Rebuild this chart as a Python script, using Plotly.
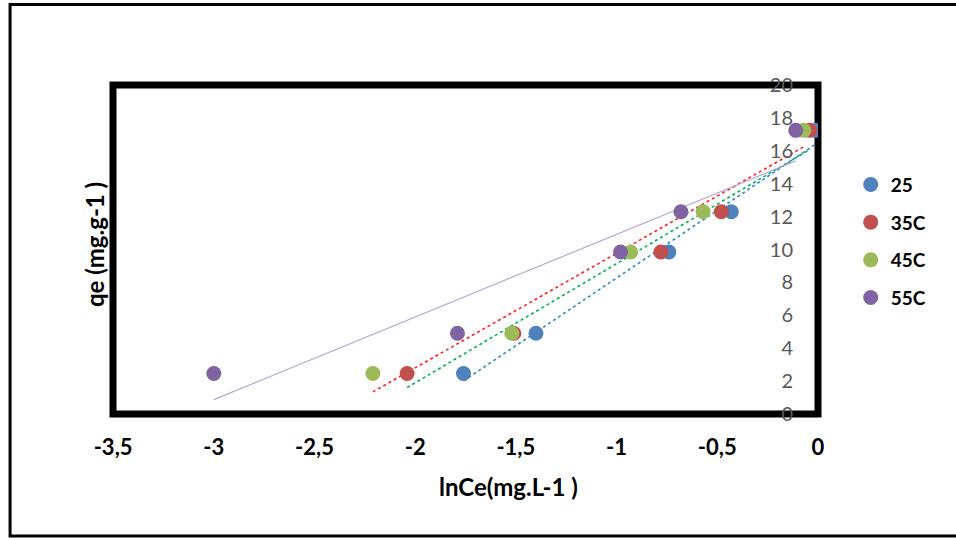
import numpy as np
import plotly.graph_objects as go

# ---- data ----
series_names = ["25", "35C", "45C", "55C"]
qe_values = [2.45, 4.9, 9.85, 12.3, 17.25]
lnce_25 = [-1.76, -1.40, -0.74, -0.43, -0.01]
lnce_35 = [-2.04, -1.51, -0.78, -0.48, -0.04]
lnce_45 = [-2.21, -1.52, -0.93, -0.57, -0.07]
lnce_55 = [-3.00, -1.79, -0.98, -0.68, -0.11]
x_tick_vals = [-3.5, -3, -2.5, -2, -1.5, -1, -0.5, 0]
x_tick_text = ["-3,5", "-3", "-2,5", "-2", "-1,5", "-1", "-0,5", "0"]
y_tick_vals = [0, 2, 4, 6, 8, 10, 12, 14, 16, 18, 20]

marker_colors = ["#4F81BD", "#C0504D", "#9BBB59", "#8064A2"]
trend_colors = ["#2E86D6", "#00B050", "#FF2020", "#B8A6D4"]
trend_dash = ["dot", "dot", "dot", "solid"]

FONT = "Lato"
fig = go.Figure()
xs_all = [lnce_25, lnce_35, lnce_45, lnce_55]

# trendlines (linear fit of each series)
for i, xs in enumerate(xs_all):
    xa = np.array(xs)
    ya = np.array(qe_values)
    m, b = np.polyfit(xa, ya, 1)
    xl = np.array([xa.min(), xa.max()])
    fig.add_trace(go.Scatter(
        x=xl, y=m * xl + b, mode="lines", showlegend=False, hoverinfo="skip",
        line=dict(color=trend_colors[i], width=1.6 if i < 3 else 1.2, dash=trend_dash[i])))

# markers
for i, xs in enumerate(xs_all):
    fig.add_trace(go.Scatter(
        x=xs, y=qe_values, mode="markers", name=series_names[i],
        legendgroup=series_names[i],
        marker=dict(size=15, color=marker_colors[i], line=dict(width=0))))

fig.update_layout(
    width=956, height=538,
    margin=dict(l=113, r=138, t=85, b=124),
    paper_bgcolor="white", plot_bgcolor="white",
    font=dict(family=FONT, color="black"),
    showlegend=True,
    legend=dict(x=1.0464, y=0.755, xanchor="left", yanchor="top",
                font=dict(family=FONT, size=19, color="black", weight="bold"),
                tracegroupgap=10, itemwidth=30, bgcolor="rgba(0,0,0,0)"),
    xaxis=dict(range=[-3.5005, 0.0005], tickvals=x_tick_vals, ticktext=x_tick_text,
               showgrid=False, zeroline=False, showline=False, ticks="",
               ticklabelstandoff=18, ticklabeloverflow="allow",
               tickfont=dict(family=FONT, size=22, color="black", weight="bold")),
    yaxis=dict(range=[-0.01, 20.01], tickvals=y_tick_vals, side="right",
               ticklabelposition="inside", ticklabelstandoff=22,
               ticklabeloverflow="allow",
               showgrid=False, zeroline=False, showline=False, ticks="",
               tickfont=dict(family=FONT, size=20, color="#595959")),
    shapes=[
        dict(type="rect", xref="paper", yref="paper", x0=0, x1=1, y0=0, y1=1,
             line=dict(color="black", width=7), layer="below"),
        dict(type="rect", xref="paper", yref="paper", x0=-0.146, x1=1.25,
             y0=-0.3708, y1=1.2447, line=dict(color="black", width=3), layer="below"),
    ],
    annotations=[
        dict(text="lnCe(mg.L-1 )", xref="paper", yref="paper",
             x=(508 - 113) / 705, y=(414 - 487) / 329, showarrow=False,
             xanchor="center", yanchor="middle",
             font=dict(family=FONT, size=24, color="black", weight="bold")),
        dict(text="qe (mg.g-1 )", xref="paper", yref="paper",
             x=(95 - 113) / 705, y=(414 - 245) / 329, showarrow=False, textangle=-90,
             xanchor="center", yanchor="middle",
             font=dict(family=FONT, size=24, color="black", weight="bold")),
    ],
)

fig.write_html("out.html")
